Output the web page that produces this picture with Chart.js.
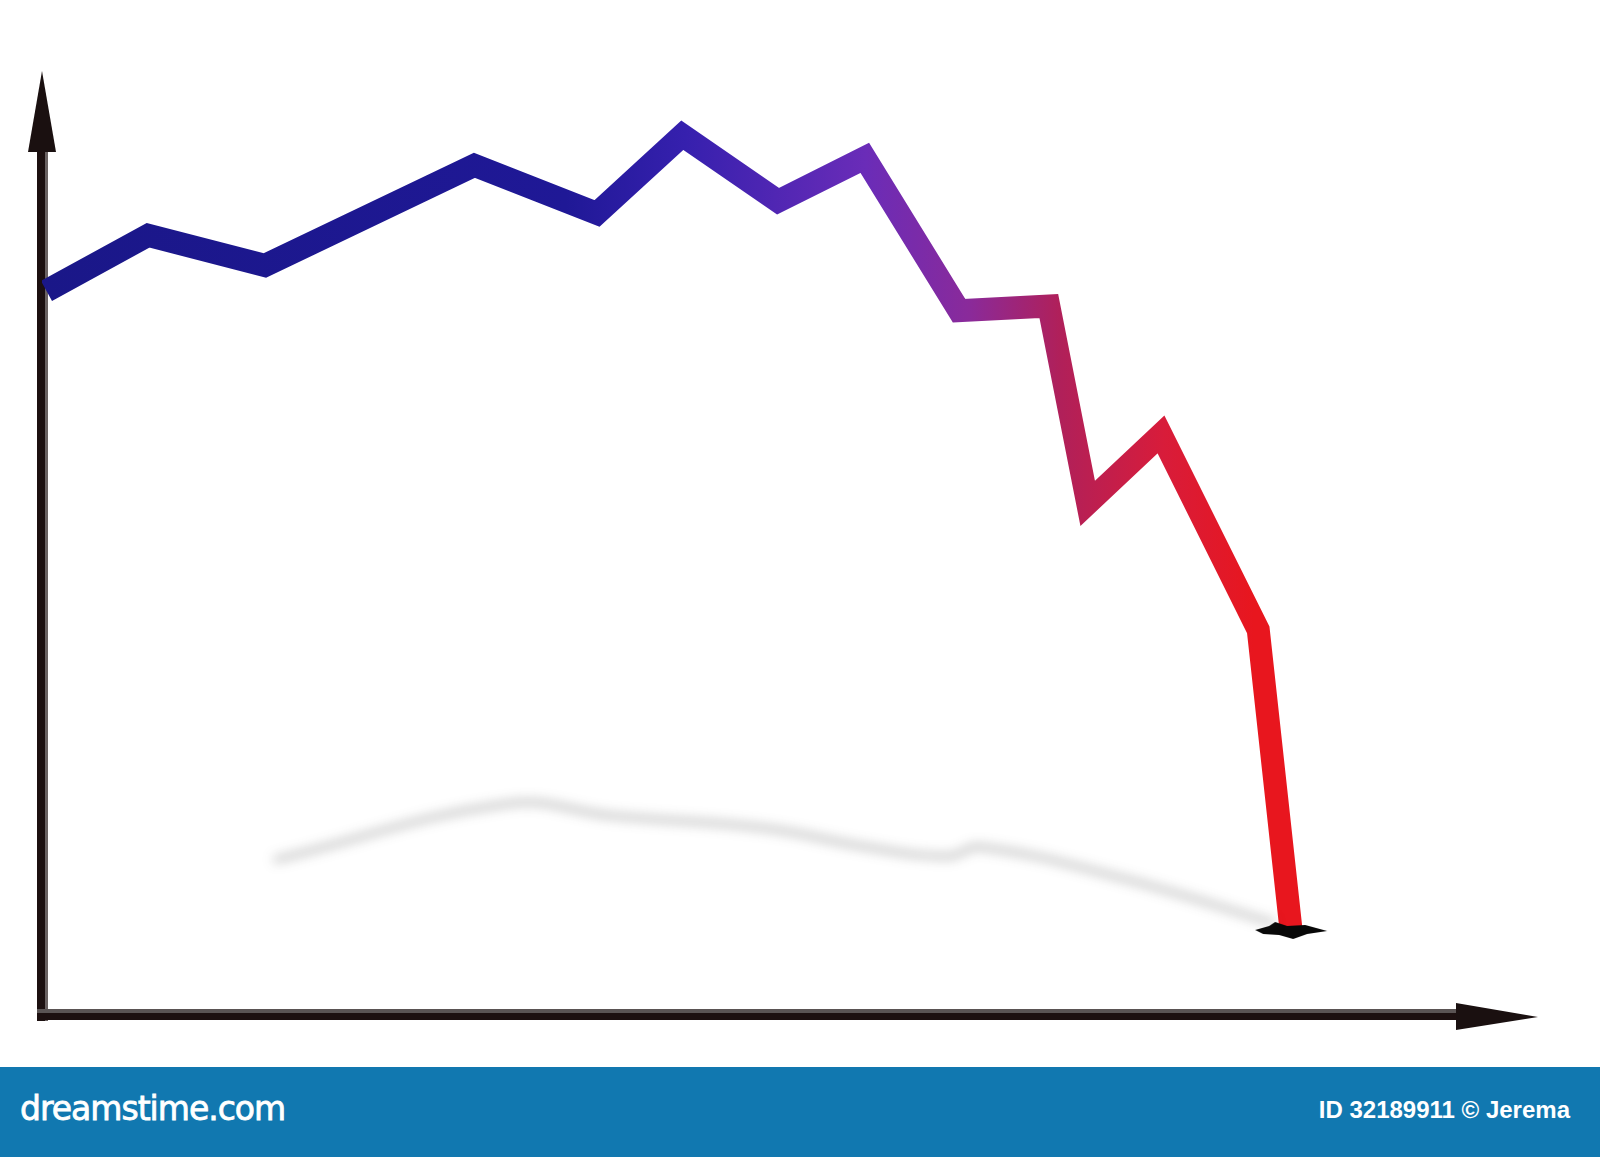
<!DOCTYPE html>
<html>
<head>
<meta charset="utf-8">
<script src="https://cdn.jsdelivr.net/npm/chart.js@4.4.1/dist/chart.umd.min.js"></script>
<style>
  body { margin: 0; background: #fff; width: 1600px; height: 1157px; overflow: hidden; }
  #box { position: relative; width: 1600px; height: 1067px; }
  #faixa { position: relative; width: 1600px; height: 90px; background: #1178b0; color: #fff; }
  #marca { position: absolute; left: 20px; top: 22px; font-family: "DejaVu Sans", sans-serif; font-size: 33px; letter-spacing: -1px; -webkit-text-stroke: 0.8px #fff; }
  #id { position: absolute; right: 30px; top: 29px; font-family: "Liberation Sans", Arial, sans-serif; font-weight: bold; font-size: 24px; }
</style>
</head>
<body>
<div id="box"><canvas id="grafico"></canvas></div>
<div id="faixa">
  <span id="marca">dreamstime.com</span>
  <span id="id">ID 32189911 © Jerema</span>
</div>
<script>
// valores (eixos sem escala: 0..100)
const posX = [0.3, 7.1, 14.9, 28.9, 37.1, 42.8, 49.2, 55.0, 61.3, 67.3, 69.9, 74.8, 81.3, 83.5];
const valores = [76.7, 82.6, 79.4, 90.0, 84.9, 93.2, 86.2, 90.8, 74.6, 75.1, 54.2, 61.5, 40.8, 8.9];

// sombra projetada no chão
const sombraX = [15.5, 31.3, 38.1, 48.3, 55.1, 60.6, 62.7, 72.2, 82.4];
const sombraY = [16.4, 22.4, 21.1, 19.8, 17.8, 16.8, 17.8, 14.5, 9.7];

const pontos = posX.map((x, i) => ({ x, y: valores[i] }));
const pontosSombra = sombraX.map((x, i) => ({ x, y: sombraY[i] }));

// mancha preta no fim da linha
const mancha = document.createElement('canvas');
mancha.width = 76; mancha.height = 20;
(function () {
  const c = mancha.getContext('2d');
  c.fillStyle = '#080808';
  c.beginPath();
  c.moveTo(2, 9); c.lineTo(16, 5); c.lineTo(22, 1); c.lineTo(34, 5); c.lineTo(52, 4);
  c.lineTo(74, 10); c.lineTo(54, 13); c.lineTo(40, 18); c.lineTo(26, 14); c.lineTo(10, 13);
  c.closePath();
  c.fill();
})();

function gradiente(ctx, area, claro) {
  const g = ctx.createLinearGradient(area.left, 0, area.right, 0);
  const stops = claro
    ? [[0, '#2c2ca8'], [0.35, '#3a34b8'], [0.43, '#5e4ccc'], [0.55, '#8e5cdc'], [0.62, '#b058c0'], [0.68, '#d05080'], [0.75, '#f05060'], [0.82, '#f5343e'], [1, '#f5343e']]
    : [[0, '#1a1788'], [0.35, '#1f1896'], [0.43, '#3620ae'], [0.55, '#6a2cb8'], [0.62, '#8a2a9a'], [0.68, '#b0205a'], [0.75, '#d81c3a'], [0.81, '#e8161e'], [1, '#e8161e']];
  stops.forEach(s => g.addColorStop(s[0], s[1]));
  return g;
}

const eixos = {
  id: 'eixos',
  beforeDatasetDraw(chart, args) {
    const ctx = chart.ctx;
    ctx.save();
    if (args.index === 0) ctx.filter = 'blur(6px)';
    if (args.index === 2) ctx.translate(-1, -7);
  },
  afterDatasetDraw(chart) {
    chart.ctx.restore();
  },
  beforeDatasetsDraw(chart) {
    const ctx = chart.ctx;
    const sx = chart.scales.x, sy = chart.scales.y;
    const x0 = sx.getPixelForValue(0), y0 = sy.getPixelForValue(0);
    const topo = sy.getPixelForValue(100), fim = sx.getPixelForValue(100);
    ctx.save();
    // eixo Y
    ctx.fillStyle = '#1c1010';
    ctx.fillRect(x0 - 5, topo + 78, 8, y0 - topo - 72);
    ctx.fillStyle = '#6a6262';
    ctx.fillRect(x0 + 3, topo + 78, 3, y0 - topo - 72);
    ctx.beginPath();
    ctx.moveTo(x0, topo);
    ctx.lineTo(x0 + 14, topo + 81);
    ctx.lineTo(x0 - 14, topo + 81);
    ctx.closePath();
    ctx.fillStyle = '#1a1010';
    ctx.fill();
    // eixo X
    ctx.fillStyle = '#5a5454';
    ctx.fillRect(x0 - 5, y0 - 6, fim - x0 - 76, 4);
    ctx.fillStyle = '#1c1010';
    ctx.fillRect(x0 - 5, y0 - 2, fim - x0 - 76, 7);
    ctx.beginPath();
    ctx.moveTo(fim, y0 + 2);
    ctx.lineTo(fim - 82, y0 - 12);
    ctx.lineTo(fim - 82, y0 + 15);
    ctx.closePath();
    ctx.fillStyle = '#1a1010';
    ctx.fill();
    ctx.restore();
  }
};

new Chart(document.getElementById('grafico'), {
  type: 'line',
  data: {
    datasets: [
      {
        label: 'sombra',
        data: pontosSombra,
        borderColor: 'rgba(50,50,50,0.3)',
        borderWidth: 6,
        tension: 0.4,
        pointRadius: 0
      },
      {
        label: 'linha',
        data: pontos,
        borderColor: ctx => {
          const area = ctx.chart.chartArea;
          return area ? gradiente(ctx.chart.ctx, area, false) : '#1a1788';
        },
        borderWidth: 23,
        borderJoinStyle: 'miter',
        borderCapStyle: 'butt',
        tension: 0,
        pointRadius: ctx => ctx.dataIndex === pontos.length - 1 ? 10 : 0,
        pointStyle: ctx => ctx.dataIndex === pontos.length - 1 ? mancha : 'circle'
      },
      {
        label: 'brilho',
        data: pontos,
        borderColor: ctx => {
          const area = ctx.chart.chartArea;
          return area ? gradiente(ctx.chart.ctx, area, true) : '#2c2ca8';
        },
        borderWidth: 7,
        borderJoinStyle: 'miter',
        tension: 0,
        pointRadius: 0
      }
    ]
  },
  options: {
    responsive: true,
    maintainAspectRatio: false,
    animation: false,
    layout: { padding: { left: 42, top: 71, right: 62, bottom: 52 } },
    scales: {
      x: { type: 'linear', min: 0, max: 100, display: false },
      y: { min: 0, max: 100, display: false }
    },
    plugins: {
      legend: { display: false },
      tooltip: { enabled: false }
    }
  },
  plugins: [eixos]
});
</script>
</body>
</html>
